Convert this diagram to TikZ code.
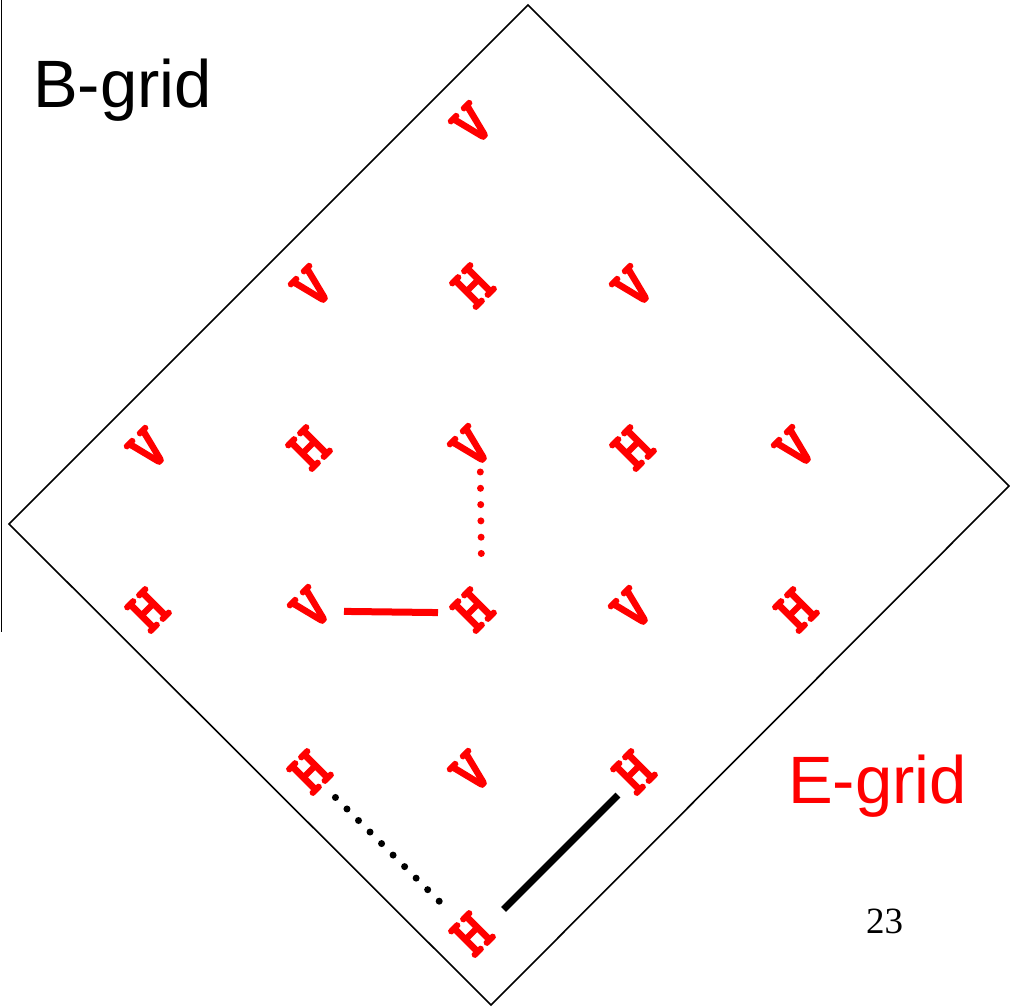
\documentclass[tikz,border=0pt]{standalone}
\usepackage{fontspec}
\setmainfont{Liberation Sans}
\newfontfamily\timesf{Liberation Serif}
\newfontfamily\courf[FakeBold=2.5]{lmmonolt10-bold.otf}
\begin{document}
\begin{tikzpicture}[x=1pt,y=-1pt]
\tikzset{
  gl/.style={text=red, font=\fontsize{62}{62}\selectfont\courf, rotate=45, inner sep=0pt},
  frame/.style={line width=1.6pt},
  dotline/.style={line width=7pt, line cap=round, dash pattern=on 0pt off 16.3pt},
  bar/.style={line width=7pt},
  title/.style={font=\fontsize{67}{67}\selectfont, inner sep=0pt, anchor=base west}
}
\useasboundingbox[fill=white] (0,0) rectangle (1010,1008);
% frame
\draw[frame] (528,5) -- (1009,486) -- (491,1005) -- (9,524) -- cycle;
\draw[frame] (1.5,0) -- (1.5,632);
% grid letters
\node[gl] (r1c3) at (472,124) {V};
\node[gl] (r2c2) at (312,287) {V};
\node[gl] (r2c3) at (473,286) {H};
\node[gl] (r2c4) at (633,287) {V};
\node[gl] (r3c1) at (148,449) {V};
\node[gl] (r3c2) at (309,448) {H};
\node[gl] (r3c3) at (471,447) {V};
\node[gl] (r3c4) at (633,448) {H};
\node[gl] (r3c5) at (795,448) {V};
\node[gl] (r4c1) at (148,610) {H};
\node[gl] (r4c2) at (311,608) {V};
\node[gl] (r4c3) at (473,610) {H};
\node[gl] (r4c4) at (632,609) {V};
\node[gl] (r4c5) at (796,610) {H};
\node[gl] (r5c2) at (310,772) {H};
\node[gl] (r5c3) at (471,772) {V};
\node[gl] (r5c4) at (634,772) {H};
\node[gl] (r6c3) at (472,934) {H};
% connectors
\draw[bar, red, shorten <=33pt, shorten >=35pt] ([yshift=-3pt]r4c2.center) -- ([yshift=-3pt]r4c3.center);
\draw[dotline, red, shorten <=25pt, shorten >=54.5pt] ([xshift=9pt]r3c3.center) -- ([xshift=9pt]r4c3.center);
\draw[dotline, black, shorten <=36pt, shorten >=46pt] (r5c2.center) -- (r6c3.center);
\draw[bar, black, shorten <=27.6pt, shorten >=39.7pt] ([xshift=3.5pt,yshift=-3.5pt]r5c4.center) -- ([xshift=3.5pt,yshift=-3.5pt]r6c3.center);
% labels
\node[title] (bgrid) at (33,108) {B-grid};
\node[title, text=red] (egrid) at (788,803) {E-grid};
\node[inner sep=0pt, anchor=base west, font=\fontsize{37}{37}\selectfont\timesf] (pg) at (866,933) {23};
\end{tikzpicture}
\end{document}
